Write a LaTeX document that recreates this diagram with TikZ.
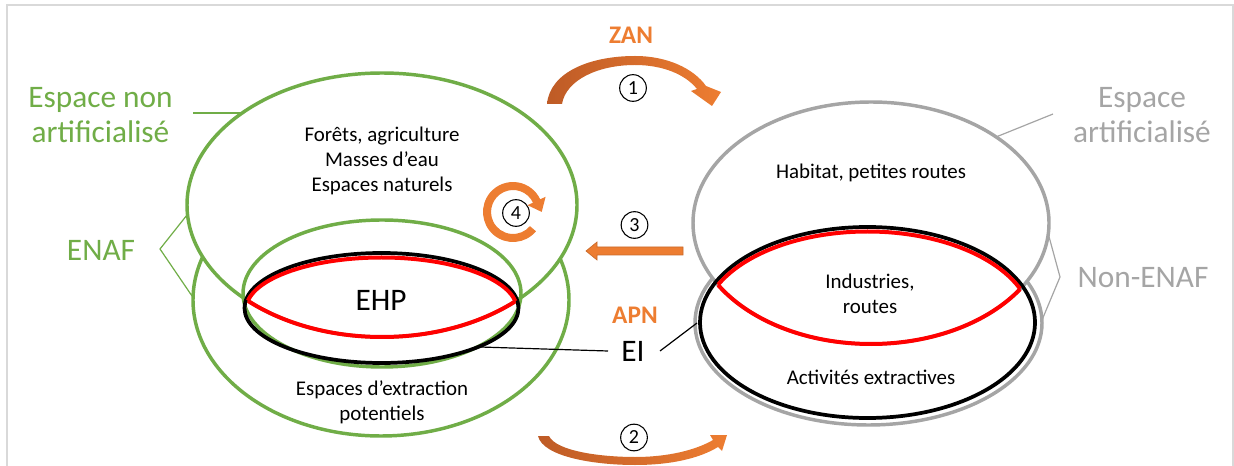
\documentclass[tikz,border=0pt]{standalone}
\usepackage{fontspec}
\setmainfont{Carlito}
\definecolor{egreen}{HTML}{70AD47}
\definecolor{egray}{HTML}{A5A5A5}
\definecolor{eorange}{HTML}{ED7D31}
\definecolor{edark}{HTML}{BE5B26}
\definecolor{eframe}{HTML}{D9D9D9}
\begin{document}
\begin{tikzpicture}[x=0.75pt,y=-0.75pt,
  greenell/.style={draw=egreen, line width=2.6pt},
  grayell/.style={draw=egray, line width=2.6pt},
  blackell/.style={draw=black, line width=2.8pt},
  redline/.style={draw=red, line width=3pt},
  lbl/.style={font=\fontsize{23.5}{26.25}\selectfont, align=center, inner sep=0pt},
  txt/.style={font=\fontsize{15.7}{18.75}\selectfont, align=center, inner sep=0pt},
  big/.style={font=\fontsize{23.5}{26}\selectfont, inner sep=0pt},
  acr/.style={font=\bfseries\fontsize{19}{22}\selectfont, text=eorange, inner sep=0pt},
  numc/.style={circle, draw, line width=0.8pt, minimum size=20pt, inner sep=0pt, font=\fontsize{15}{16}\selectfont},
  thin/.style={line width=0.9pt},
  orangefill/.style={left color=edark, right color=eorange}
]
\useasboundingbox (0,0) rectangle (1234,466);
\draw[eframe, line width=1.5pt] (7,5) rectangle (1233,490);

% ---------- left group ----------
\draw[greenell, fill=white] (381,300) ellipse [x radius=188, y radius=136];
\draw[greenell, fill=white] (382,205) ellipse [x radius=195, y radius=132];
\draw[greenell] (382,293.5) ellipse [x radius=139, y radius=73.5];
\draw[blackell] (381.5,308) ellipse [x radius=137, y radius=55];
\begin{scope}
  \clip (382,205) ellipse [x radius=195, y radius=132];
  \draw[redline] (381.5,309.5) ellipse [x radius=135.5, y radius=52];
\end{scope}
\begin{scope}
  \clip (381.5,309.5) ellipse [x radius=135.5, y radius=52];
  \draw[redline] (382,205) ellipse [x radius=195, y radius=132];
\end{scope}

% ---------- right group ----------
\draw[grayell, fill=white] (868.5,323) ellipse [x radius=173.5, y radius=102];
\draw[grayell, fill=white] (871,223) ellipse [x radius=178, y radius=121];
\draw[blackell] (867.5,322.5) ellipse [x radius=167.5, y radius=95.5];
\begin{scope}
  \clip (871,223) ellipse [x radius=178, y radius=121];
  \draw[redline] (867.5,324) ellipse [x radius=165, y radius=92.5];
\end{scope}
\begin{scope}
  \clip (867.5,324) ellipse [x radius=165, y radius=92.5];
  \draw[redline] (871,223) ellipse [x radius=178, y radius=121];
\end{scope}

% ---------- texts in shapes ----------
\node[txt] (foret) at (382,161) {Forêts, agriculture\\Masses d’eau\\Espaces naturels};
\node[big] (ehp) at (381,300) {EHP};
\node[txt] (extr) at (382,402.5) {Espaces d’extraction\\potentiels};
\node[txt] (habitat) at (871,173) {Habitat, petites routes};
\node[txt] (indus) at (870,293.5) {Industries,\\routes};
\node[txt] (activ) at (871,377) {Activités extractives};

% ---------- side labels ----------
\node[lbl, text=egreen] (ena) at (100.5,115) {Espace non\\artificialisé};
\node[lbl, text=egreen] (enaf) at (101,250) {ENAF};
\node[lbl, text=egray] (ea) at (1142,115) {Espace\\artificialisé};
\node[lbl, text=egray] (nenaf) at (1143,278) {Non-ENAF};

\coordinate (enaA) at (193,113);
\coordinate (enaB) at (243,113);
\draw[egreen, thin] (enaA) -- (enaB);
\coordinate (enafV) at (160,249);
\coordinate (enafT) at (187,215);
\coordinate (enafB) at (192,296);
\draw[egreen, thin] (enafT) -- (enafV) -- (enafB);
\coordinate (eaA) at (1053,114);
\coordinate (eaB) at (996,137);
\draw[egray, thin] (eaA) -- (eaB);
\coordinate (nV) at (1060,277);
\coordinate (nT) at (1048,233);
\coordinate (nB) at (1042,320);
\draw[egray, thin] (nT) -- (nV) -- (nB);

% ---------- EI / APN / ZAN ----------
\node[big] (ei) at (633,351) {EI};
\node[acr] (apn) at (635,315) {APN};
\node[acr] (zan) at (631,35) {ZAN};
\coordinate (eiL) at (480,347);
\coordinate (eiR) at (697,323);
\draw[thin] (eiL) -- (608,351);
\draw[thin] (660,351) -- (eiR);

% ---------- arrows ----------
% 1 (ZAN)
\shade[orangefill] (547,104) .. controls (550,72) and (590,56) .. (635,56)
  .. controls (668,56) and (694,69) .. (706,86) -- (721,92) -- (712,106) -- (691,91) -- (697,89)
  .. controls (685,74) and (662,65) .. (635,65) .. controls (598,65) and (566,80) .. (562,104) -- cycle;
\node[numc] (c1) at (633,88) {1};
% 2
\shade[orangefill] (538,436) .. controls (543,457) and (595,465) .. (635,465)
  .. controls (672,465) and (700,458) .. (718,447) -- (722,451) -- (727,435) -- (710,435) -- (713,440)
  .. controls (696,450) and (668,457) .. (635,457) .. controls (600,457) and (556,451) .. (549,436) -- cycle;
\node[numc] (c2) at (634,437.5) {2};
% 3
\fill[eorange, draw=eorange!85!black, line width=0.5pt] (683,247) -- (597,247) -- (597,242) -- (586,251) -- (597,260) -- (597,255) -- (683,255) -- cycle;
\node[numc] (c3) at (634.5,225) {3};
% 4 : circular arrow (ring with head)
\fill[eorange] (513,212) ++(40:30) arc[start angle=40, end angle=335, radius=30]
  -- (545.6,196.8) -- (541.7,211.9) -- (527.5,205.2) -- (533,202.7)
  arc[start angle=335, end angle=40, radius=22] -- cycle;
\node[numc] (c4) at (516,213) {4};
\end{tikzpicture}
\end{document}
